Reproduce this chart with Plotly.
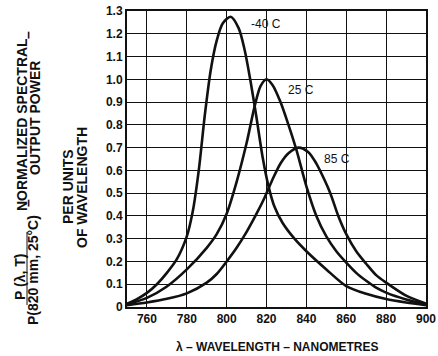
import plotly.graph_objects as go

# Wavelength (nm) and normalized spectral output power per temperature
wl_m40 = [750, 755, 760, 765, 770, 775, 780, 783, 786, 789, 792, 795, 798, 802, 806, 809, 812,
          815, 818, 821, 824, 828, 834, 840, 850, 860, 870, 880, 890, 900]
p_m40 = [0.015, 0.035, 0.062, 0.10, 0.15, 0.21, 0.31, 0.42, 0.60, 0.84, 1.04, 1.17, 1.245, 1.275,
         1.225, 1.13, 0.99, 0.83, 0.66, 0.53, 0.44, 0.37, 0.30, 0.245, 0.165, 0.092, 0.058, 0.035,
         0.02, 0.008]

wl_25 = [750, 760, 770, 780, 790, 795, 800, 805, 810, 814, 817, 820, 823, 827, 831, 835, 840,
         845, 850, 855, 860, 865, 870, 875, 880, 890, 900]
p_25 = [0.012, 0.04, 0.09, 0.165, 0.26, 0.32, 0.41, 0.55, 0.72, 0.88, 0.97, 1.0, 0.975, 0.90,
        0.80, 0.69, 0.53, 0.40, 0.31, 0.245, 0.195, 0.15, 0.115, 0.085, 0.063, 0.033, 0.012]

wl_85 = [750, 760, 770, 780, 790, 795, 800, 805, 810, 815, 819, 823, 827, 831, 836, 841, 845,
         849, 852, 856, 860, 865, 870, 875, 880, 890, 900]
p_85 = [0.008, 0.02, 0.036, 0.06, 0.107, 0.145, 0.20, 0.26, 0.33, 0.41, 0.48, 0.56, 0.63, 0.675,
        0.70, 0.68, 0.63, 0.56, 0.50, 0.40, 0.32, 0.245, 0.19, 0.14, 0.107, 0.05, 0.015]

curve_labels = ["-40 C", "25 C", "85 C"]

x_ticks = [760, 780, 800, 820, 840, 860, 880, 900]
x_ticktext = ["760", "780", "800", "820", "840", "860", "880", "900"]
y_ticks = [0, 0.1, 0.2, 0.3, 0.4, 0.5, 0.6, 0.7, 0.8, 0.9, 1.0, 1.1, 1.2, 1.3]
y_ticktext = ["0", "0.1", "0.2", "0.3", "0.4", "0.5", "0.6", "0.7", "0.8", "0.9", "1.0", "1.1", "1.2", "1.3"]
x_title = "λ – WAVELENGTH – NANOMETRES"

FONT = "Liberation Sans"
BLACK = "#111111"

W, H = 438, 356
# plot area in page pixels
L, R, T, B = 127, 426, 11, 307

fig = go.Figure()
for wl, p in [(wl_m40, p_m40), (wl_25, p_25), (wl_85, p_85)]:
    fig.add_trace(go.Scatter(x=wl, y=p, mode="lines",
                             line=dict(color=BLACK, width=2.6, shape="spline", smoothing=0.8),
                             showlegend=False, hoverinfo="skip"))

# curve labels
label_pos = [(819.5, 1.243), (837.5, 0.953), (855.5, 0.65)]
for t, (lx, ly) in zip(curve_labels, label_pos):
    fig.add_annotation(x=lx, y=ly, xref="x", yref="y", text=t, showarrow=False,
                       font=dict(family=FONT, size=12, color=BLACK))

def px(xp):
    return (xp - L) / (R - L)
def py(yp):
    return (B - yp) / (B - T)

side_texts = [
    ("NORMALIZED SPECTRAL", 22, 125),
    ("OUTPUT POWER", 35, 118),
    ("PER UNITS", 68, 187),
    ("OF WAVELENGTH", 82, 188),
    ("P (λ, T)", 20, 277),
    ("P(820 mm, 25°C)", 33, 270),
    ("–", 28, 35),
    ("–", 28, 203),
]
for t, xp, yp in side_texts:
    fig.add_annotation(x=px(xp), y=py(yp), xref="paper", yref="paper", text=t,
                       textangle=-90, showarrow=False, xanchor="center", yanchor="middle",
                       font=dict(family=FONT, size=14, color=BLACK, weight="bold"))

# x-axis title
fig.add_annotation(x=px(277), y=py(347), xref="paper", yref="paper", text=x_title,
                   showarrow=False, xanchor="center", yanchor="middle",
                   font=dict(family=FONT, size=12, color=BLACK, weight="bold"))

# fraction bar
fig.add_shape(type="line", xref="paper", yref="paper",
              x0=px(27), x1=px(27), y0=py(232), y1=py(305),
              line=dict(color=BLACK, width=1))

fig.update_layout(
    width=W, height=H,
    margin=dict(l=L, r=W - R, t=T, b=H - B, pad=0, autoexpand=False),
    paper_bgcolor="white", plot_bgcolor="white",
    font=dict(family=FONT, size=12, color=BLACK),
    xaxis=dict(range=[750, 900], tickvals=x_ticks, ticktext=x_ticktext,
               showgrid=True, gridcolor=BLACK, gridwidth=1,
               showline=True, linecolor=BLACK, linewidth=2, mirror=True,
               ticks="", zeroline=False, automargin=False,
               tickfont=dict(family=FONT, size=12, color=BLACK, weight="bold")),
    yaxis=dict(range=[0, 1.3], tickvals=y_ticks, ticktext=y_ticktext,
               showgrid=True, gridcolor=BLACK, gridwidth=1,
               showline=True, linecolor=BLACK, linewidth=2, mirror=True,
               ticks="", zeroline=False, automargin=False,
               tickfont=dict(family=FONT, size=12, color=BLACK, weight="bold")),
)

fig.write_html("out.html",
               config={"displayModeBar": False, "staticPlot": True},
               post_script="document.body.style.margin='0';document.body.style.overflow='hidden';")
